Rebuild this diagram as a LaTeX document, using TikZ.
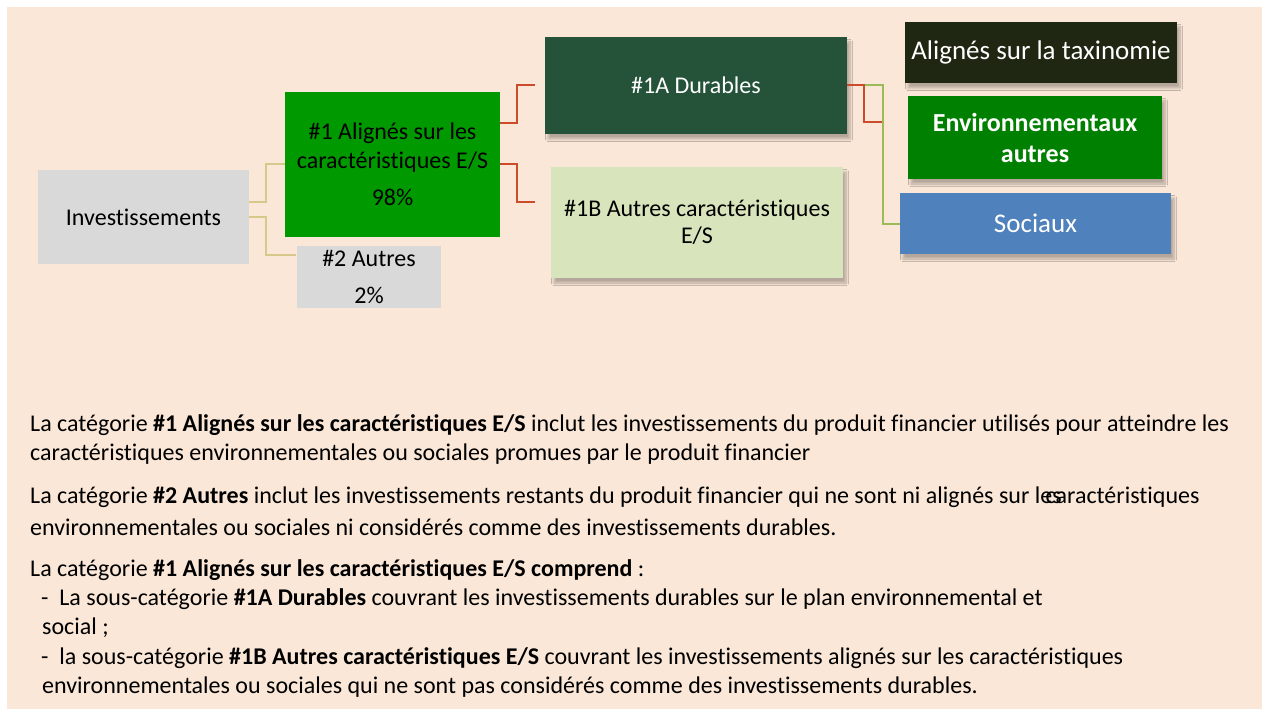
\documentclass[tikz,border=0pt]{standalone}
\usepackage{fontspec}
\setmainfont{Carlito}[Ligatures=NoCommon]
\usetikzlibrary{shadows.blur}
\definecolor{bgbeige}{HTML}{FAE7D7}
\definecolor{boxgray}{HTML}{D9D9D9}
\definecolor{green1}{HTML}{009900}
\definecolor{dur}{HTML}{255339}
\definecolor{autrescar}{HTML}{D8E4BC}
\definecolor{taxo}{HTML}{1F2612}
\definecolor{envgreen}{HTML}{008000}
\definecolor{soc}{HTML}{4F81BD}
\definecolor{tanline}{HTML}{D8C98A}
\definecolor{redline}{HTML}{CB4B2B}
\definecolor{oliveline}{HTML}{9BBB59}
\tikzset{
  cat/.style={inner sep=0pt, align=center, font=\fontsize{24}{29}\selectfont},
  shadowed/.style={blur shadow={shadow xshift=3pt, shadow yshift=-5pt, shadow blur steps=8, shadow blur radius=2.5pt, shadow opacity=28}},
  conn/.style={line width=2pt},
  para/.style={anchor=west, inner sep=0pt, font=\fontsize{24}{29}\selectfont},
}
\begin{document}
\begin{tikzpicture}[x=1pt,y=-1pt]
\useasboundingbox (0,0) rectangle (1268,711);
\fill[bgbeige] (7,7) rectangle (1262,709);

% boxes
\node[cat, fill=boxgray, minimum width=211, minimum height=94] (inv) at (143.5,217) {Investissements};
\node[cat, fill=green1, minimum width=215, minimum height=145] (one) at (392.5,164.5) {};
\node[cat] (oneA) at (392.5,133) {\#1 Alignés sur les};
\node[cat] (oneB) at (392.5,162) {caractéristiques E/S};
\node[cat] (oneC) at (392.5,197) {98\%};
\node[cat, fill=boxgray, minimum width=144, minimum height=62] (two) at (369,277) {};
\node[cat] (twoA) at (369,258) {\#2 Autres};
\node[cat] (twoB) at (369,295) {2\%};

\node[cat, shadowed, fill=dur, text=white, minimum width=302, minimum height=97] (a1) at (696,85.5) {\#1A Durables};
\node[cat, shadowed, fill=autrescar, minimum width=292, minimum height=111, font=\fontsize{24}{27}\selectfont] (b1) at (697,222.5) {\#1B Autres caractéristiques\\E/S};

\node[cat, shadowed, fill=taxo, text=white, minimum width=272, minimum height=61, font=\fontsize{27}{30}\selectfont] (tax) at (1041,52.5) {Alignés sur la taxinomie};
\node[cat, shadowed, fill=envgreen, text=white, minimum width=254, minimum height=83, font=\bfseries\fontsize{26}{31}\selectfont] (env) at (1035,137.5) {Environnementaux\\autres};
\node[cat, shadowed, fill=soc, text=white, minimum width=271, minimum height=61, font=\fontsize{27}{30}\selectfont] (soc) at (1035.5,223.5) {Sociaux};

% connectors
\draw[conn, tanline] (inv.east |- 0,202) -- ++(17,0) |- (one.west |- 0,164);
\draw[conn, tanline] (inv.east |- 0,217) -- ++(17,0) |- ([xshift=-1pt]two.west |- 0,255);
\draw[conn, redline] (one.east |- 0,123) -- ++(17,0) |- ([xshift=-10pt]a1.west);
\draw[conn, redline] (one.east |- 0,164) -- ++(17,0) |- ([xshift=-16pt]b1.west |- 0,202);
\draw[conn, oliveline] (a1.east |- 0,85) -- ++(36,0) |- (soc.west |- 0,224);
\draw[conn, redline] (a1.east |- 0,85) -- ++(17,0) |- ([xshift=-26pt]env.west |- 0,122);

% text
\node[para] (p1a) at (30,425) {La catégorie \textbf{\#1 Alignés sur les caractéristiques E/S} inclut les investissements du produit financier utilisés pour atteindre les};
\node[para] (p1b) at (30,454) {caractéristiques environnementales ou sociales promues par le produit financier};
\node[para] (p2a) at (30,497) {La catégorie \textbf{\#2 Autres} inclut les investissements restants du produit financier qui ne sont ni alignés sur les\hspace{-16pt}caractéristiques};
\node[para] (p2b) at (30,527) {environnementales ou sociales ni considérés comme des investissements durables.};
\node[para] (p3a) at (30,570) {La catégorie \textbf{\#1 Alignés sur les caractéristiques E/S comprend} :};
\node[para] (p3b) at (41,599) {-\ \ La sous-catégorie \textbf{\#1A Durables} couvrant les investissements durables sur le plan environnemental et};
\node[para] (p3c) at (42,628) {social ;};
\node[para] (p3d) at (41,658) {-\ \ la sous-catégorie \textbf{\#1B Autres caractéristiques E/S} couvrant les investissements alignés sur les caractéristiques};
\node[para] (p3e) at (42,687) {environnementales ou sociales qui ne sont pas considérés comme des investissements durables.};
\end{tikzpicture}
\end{document}
